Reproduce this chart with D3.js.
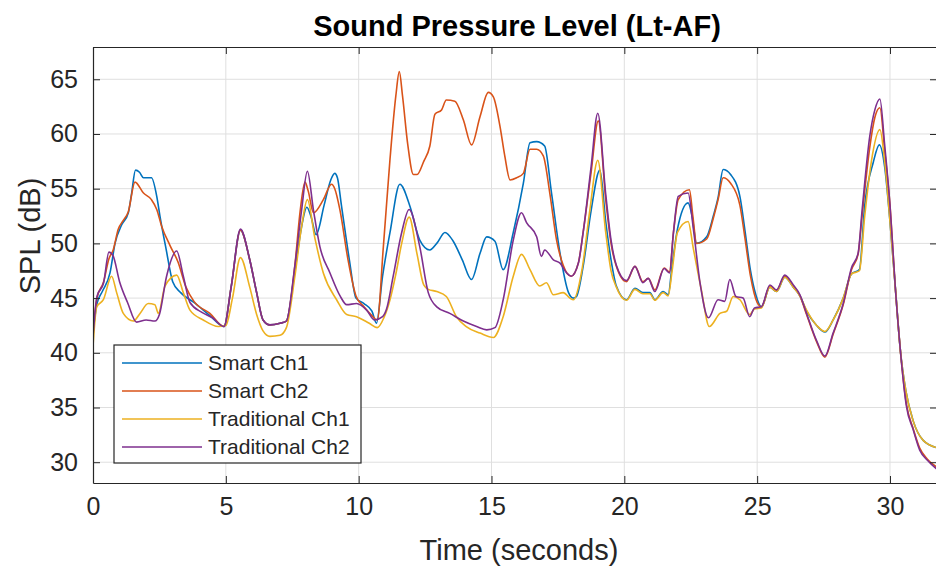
<!DOCTYPE html>
<html>
<head>
<meta charset="utf-8">
<script src="https://cdn.jsdelivr.net/npm/d3@7"></script>
<style>
  body { margin: 0; background: #fff; }
  text { font-family: "Liberation Sans", Arial, sans-serif; fill: #262626; }
</style>
</head>
<body>
<script>
// Series values: [time (s), SPL (dB)]
const smartCh1 = [[0,41.8],[0.15,44.5],[0.35,45.6],[0.64,47.3],[0.83,50],[1.08,51.7],[1.33,52.8],[1.45,54.5],[1.6,56.7],[1.75,56.5],[1.9,56.0],[2.2,56.0],[2.4,54.3],[2.52,52.5],[2.75,49.5],[3.0,46.5],[3.3,45.5],[3.8,44.6],[4.4,43.4],[4.93,42.4],[5.2,46],[5.55,51.2],[5.9,48.5],[6.16,45.5],[6.4,43],[6.66,42.55],[7.04,42.7],[7.28,42.9],[7.6,47.5],[7.85,51.5],[8.05,53.3],[8.2,52.5],[8.4,50.8],[8.7,53.5],[8.95,55.8],[9.1,56.4],[9.2,56],[9.35,53.5],[9.65,48.5],[9.9,45],[10.2,44.5],[10.5,43.8],[10.67,42.7],[10.9,47],[11.18,51],[11.55,55.4],[11.93,53.4],[12.3,50.3],[12.68,49.4],[12.94,50],[13.25,51],[13.56,50.2],[13.9,48.5],[14.25,46.7],[14.57,49.1],[14.82,50.6],[15.13,50.2],[15.44,47.6],[15.82,51.0],[16.2,55.5],[16.45,59.2],[16.7,59.3],[17.0,58.9],[17.26,54.6],[17.58,49.1],[17.9,45.5],[18.08,45],[18.2,45.15],[18.45,47.9],[18.75,53],[19.08,56.7],[19.3,52],[19.5,48.5],[19.7,46.1],[20.08,44.85],[20.4,45.9],[20.7,45.5],[20.96,45.5],[21.15,44.85],[21.46,45.6],[21.65,45.3],[21.8,48],[22.0,51.3],[22.4,53.7],[22.55,52.5],[22.72,50],[23.1,50.6],[23.35,52.5],[23.53,54.2],[23.72,56.75],[24.0,56.3],[24.35,54.3],[24.54,51.2],[24.75,47.5],[24.95,45.3],[25.16,44.2],[25.48,46.0],[25.73,45.6],[26.04,46.9],[26.36,46.0],[26.61,45.2],[26.86,43.8],[27.24,42.5],[27.55,41.9],[27.86,43],[28.24,45],[28.55,47.2],[28.85,47.6],[29.05,53.5],[29.37,57.4],[29.6,59],[29.8,57],[30.0,52],[30.2,46],[30.4,40],[30.6,36.5],[30.87,33.8],[31.25,32.0],[31.8,31.3]];

const smartCh2 = [[0,41.8],[0.15,45],[0.4,46.5],[0.6,48.6],[0.76,49.4],[0.95,51.3],[1.14,52.1],[1.33,52.9],[1.58,55.6],[1.9,54.6],[2.2,54.0],[2.4,53.1],[2.58,51.6],[2.9,49.8],[3.2,48.3],[3.5,46],[3.8,44.7],[4.4,43.6],[4.93,42.4],[5.2,46],[5.55,51.2],[5.9,48.5],[6.16,45.5],[6.4,43],[6.66,42.55],[7.04,42.7],[7.28,42.9],[7.6,48],[7.8,53],[7.98,55.6],[8.1,54.8],[8.3,52.8],[8.67,54],[8.98,55.4],[9.1,55],[9.3,53],[9.6,48.5],[9.9,45.2],[10.2,44.2],[10.5,43.4],[10.7,43],[10.93,49.7],[11.18,57.7],[11.4,63.5],[11.53,65.7],[11.65,63.5],[11.85,59],[12.06,56.3],[12.2,56.3],[12.45,57.5],[12.68,58.9],[12.87,61.8],[13.12,62.2],[13.3,63.1],[13.62,63.0],[13.94,61.3],[14.25,59.0],[14.57,61.6],[14.88,63.8],[15.07,63.4],[15.32,60.7],[15.5,58],[15.7,55.8],[15.95,56.0],[16.2,56.4],[16.45,58.6],[16.7,58.6],[16.95,58],[17.2,54.5],[17.45,50.3],[17.7,48],[18.0,47],[18.27,48.2],[18.45,51],[18.75,56.5],[19.02,61.2],[19.3,54],[19.5,50],[19.7,47.9],[20.08,46.5],[20.4,47.9],[20.7,46.5],[20.9,46.8],[21.15,45.75],[21.5,47.75],[21.7,47.4],[21.85,51],[22.03,54],[22.45,54.9],[22.58,52.5],[22.72,50],[23.1,50.4],[23.35,52.3],[23.53,54],[23.72,56],[24.0,55.5],[24.35,53.5],[24.54,50.5],[24.75,47],[25.0,44.6],[25.16,44.2],[25.48,46.1],[25.73,45.7],[26.04,47.0],[26.36,46.1],[26.61,45.2],[26.86,43.5],[27.24,41.0],[27.55,39.6],[27.86,41.7],[28.24,44.4],[28.55,47.6],[28.8,49.0],[28.95,52.5],[29.24,58.8],[29.43,61.5],[29.62,62.4],[29.8,58.5],[30.0,53.5],[30.2,46],[30.4,40],[30.62,35.3],[30.87,33.1],[31.12,31.3],[31.4,30.3],[31.8,29.5]];

const tradCh1 = [[0,40.6],[0.14,44.2],[0.39,44.85],[0.7,47],[0.89,45.5],[1.14,43.6],[1.52,42.9],[1.77,43.6],[2.08,44.5],[2.33,44.4],[2.46,43.6],[2.71,46.1],[3.15,47.1],[3.4,45.5],[3.65,43.9],[4.15,43],[4.72,42.4],[5.0,42.5],[5.25,45],[5.55,48.7],[5.9,46],[6.16,43.5],[6.4,42],[6.66,41.5],[7.04,41.6],[7.28,42.3],[7.6,47],[7.85,51.5],[8.07,54],[8.35,50.5],[8.67,47.3],[9.17,44.85],[9.55,43.5],[9.92,43.3],[10.4,42.7],[10.7,42.3],[10.95,43.2],[11.18,44.85],[11.4,47.2],[11.62,50],[11.9,52.4],[12.2,49],[12.45,46.2],[12.62,45.8],[12.94,45.6],[13.3,45.15],[13.68,43.3],[14.05,42.4],[14.57,41.8],[15.07,41.4],[15.44,43.3],[15.82,47],[16.13,49],[16.45,47.6],[16.82,46.1],[17.07,46.4],[17.33,45.3],[17.7,45.5],[17.95,45],[18.08,44.85],[18.4,47.5],[18.7,53],[19.0,57.6],[19.3,51],[19.5,47.5],[19.7,46.0],[20.08,44.8],[20.4,45.8],[20.7,45.4],[20.96,45.4],[21.15,44.8],[21.46,45.5],[21.65,45.2],[21.8,47.5],[22.0,51],[22.4,52],[22.6,49.5],[22.9,45.75],[23.2,42.4],[23.6,43.6],[23.85,43.8],[24.1,45.15],[24.35,44.85],[24.72,43.5],[24.9,44],[25.16,44.1],[25.48,46.0],[25.73,45.6],[26.04,46.9],[26.36,46.0],[26.61,45.2],[26.86,43.9],[27.24,42.5],[27.55,41.95],[27.86,43],[28.24,45],[28.55,47.2],[28.85,47.5],[29.05,52.5],[29.3,57.5],[29.62,60.4],[29.8,57.5],[30.0,52],[30.2,46],[30.4,40],[30.6,36.5],[30.87,33.8],[31.25,32.0],[31.8,31.3]];

const tradCh2 = [[0,41.5],[0.15,45.15],[0.4,46.4],[0.6,49.2],[0.75,48.9],[1.0,46.5],[1.3,44.6],[1.64,42.8],[2.0,43.0],[2.33,42.9],[2.5,43.5],[2.77,47],[3.15,49.3],[3.4,47],[3.65,44.6],[4.1,43.7],[4.5,43.2],[4.93,42.4],[5.2,46],[5.55,51.3],[5.9,48.5],[6.16,45.5],[6.4,43],[6.66,42.55],[7.04,42.7],[7.28,42.9],[7.6,48],[7.85,53],[8.07,56.6],[8.3,53],[8.54,49.7],[8.92,47.3],[9.3,45.2],[9.55,44.4],[9.92,44.5],[10.3,43.9],[10.6,43],[10.9,43.3],[11.05,44],[11.3,47],[11.62,51],[11.9,53.1],[12.3,49.7],[12.62,45.5],[12.94,44.2],[13.43,43.6],[13.94,42.9],[14.44,42.4],[14.82,42.1],[15.13,42.3],[15.44,44.85],[15.82,50.3],[16.13,52.8],[16.32,51.9],[16.7,50.6],[16.88,48.8],[17.0,49.4],[17.33,48.5],[17.58,48.2],[17.83,47.3],[18.0,47],[18.27,48.2],[18.45,51],[18.75,57],[19.0,61.9],[19.3,54.5],[19.5,50.3],[19.7,48],[20.08,46.6],[20.4,47.9],[20.7,46.4],[20.9,46.8],[21.15,45.6],[21.5,47.7],[21.7,47.3],[21.85,51],[22.03,54.3],[22.4,54.6],[22.6,51.3],[22.85,46.4],[23.17,43.2],[23.53,44.85],[23.78,44.7],[23.97,46.7],[24.2,45.15],[24.47,45],[24.72,43.3],[24.9,44.1],[25.16,44.2],[25.48,46.2],[25.73,45.75],[26.04,47.1],[26.36,46.2],[26.61,45.3],[26.86,43.6],[27.24,41.1],[27.55,39.7],[27.86,41.8],[28.24,44.5],[28.55,47.75],[28.8,49.1],[28.95,53],[29.24,59.8],[29.43,62.2],[29.62,63.2],[29.8,59],[30.0,53.5],[30.2,46],[30.4,40],[30.62,35.1],[30.87,33],[31.12,31.1],[31.4,30.2],[31.8,29.3]];

const seriesNames = ["Smart Ch1", "Smart Ch2", "Traditional Ch1", "Traditional Ch2"];
const seriesValues = [smartCh1, smartCh2, tradCh1, tradCh2];
const seriesColors = ["#0072BD", "#D95319", "#EDB120", "#7E2F8E"];
const xTicks = [0, 5, 10, 15, 20, 25, 30];
const yTicks = [30, 35, 40, 45, 50, 55, 60, 65];

const W = 936, H = 567;
const margin = { top: 47, right: -1, bottom: 84, left: 93 };
const width = W - margin.left - margin.right;
const height = H - margin.top - margin.bottom;

const svg = d3.select("body").append("svg")
  .attr("width", W)
  .attr("height", H);

const g = svg.append("g")
  .attr("transform", "translate(" + margin.left + "," + margin.top + ")");

const x = d3.scaleLinear().domain([0, 31.77]).range([0, width]);
const y = d3.scaleLinear().domain([28.1, 67.95]).range([height, 0]);

// grid
g.append("g").selectAll("line")
  .data(xTicks.slice(1))
  .enter().append("line")
  .attr("x1", d => x(d)).attr("x2", d => x(d))
  .attr("y1", 0).attr("y2", height)
  .attr("stroke", "#dfdfdf").attr("stroke-width", 1);
g.append("g").selectAll("line")
  .data(yTicks)
  .enter().append("line")
  .attr("x1", 0).attr("x2", width)
  .attr("y1", d => y(d)).attr("y2", d => y(d))
  .attr("stroke", "#dfdfdf").attr("stroke-width", 1);

// lines
const line = d3.line()
  .x(d => x(d[0]))
  .y(d => y(d[1]))
  .curve(d3.curveMonotoneX);

g.append("defs").append("clipPath").attr("id", "clip")
  .append("rect").attr("width", width).attr("height", height);

g.append("g").attr("clip-path", "url(#clip)")
  .selectAll("path")
  .data(seriesValues)
  .enter().append("path")
  .attr("d", line)
  .attr("fill", "none")
  .attr("stroke", (d, i) => seriesColors[i])
  .attr("stroke-width", 1.6)
  .attr("stroke-linejoin", "round");

// axes (MATLAB style: ticks inside, box on)
const xAxis = d3.axisBottom(x).tickValues(xTicks).tickSizeInner(-7).tickSizeOuter(0).tickPadding(14);
const yAxis = d3.axisLeft(y).tickValues(yTicks).tickSizeInner(-7).tickSizeOuter(0).tickPadding(15);

const xa = g.append("g").attr("transform", "translate(0," + height + ")").call(xAxis);
const ya = g.append("g").call(yAxis);
g.append("g").call(d3.axisTop(x).tickValues(xTicks).tickSizeInner(-7).tickSizeOuter(0).tickFormat(""));
g.append("g").attr("transform", "translate(" + width + ",0)")
  .call(d3.axisRight(y).tickValues(yTicks).tickSizeInner(-7).tickSizeOuter(0).tickFormat(""));

g.selectAll(".domain").attr("stroke", "#262626").attr("stroke-width", 1.2);
g.selectAll(".tick line").attr("stroke", "#262626");
xa.selectAll("text").attr("font-size", 25).attr("fill", "#262626");
ya.selectAll("text").attr("font-size", 25).attr("fill", "#262626");

// labels
svg.append("text")
  .attr("x", 517).attr("y", 36)
  .attr("text-anchor", "middle")
  .attr("font-size", 29).attr("font-weight", "bold")
  .style("fill", "#000")
  .text("Sound Pressure Level (Lt-AF)");

svg.append("text")
  .attr("x", 519).attr("y", 560)
  .attr("text-anchor", "middle")
  .attr("font-size", 29)
  .text("Time (seconds)");

svg.append("text")
  .attr("transform", "translate(40,236) rotate(-90)")
  .attr("text-anchor", "middle")
  .attr("font-size", 29)
  .text("SPL (dB)");

// legend
const legend = svg.append("g").attr("transform", "translate(114,345)");
legend.append("rect")
  .attr("width", 247).attr("height", 118)
  .attr("fill", "#fff").attr("stroke", "#262626").attr("stroke-width", 1.2);
const items = legend.selectAll(".item")
  .data(seriesNames)
  .enter().append("g")
  .attr("transform", (d, i) => "translate(0," + (18 + i * 28) + ")");
items.append("line")
  .attr("x1", 8).attr("x2", 88)
  .attr("stroke", (d, i) => seriesColors[i]).attr("stroke-width", 1.6);
items.append("text")
  .attr("x", 94).attr("dy", "0.35em")
  .attr("font-size", 21)
  .text(d => d);
</script>
</body>
</html>
